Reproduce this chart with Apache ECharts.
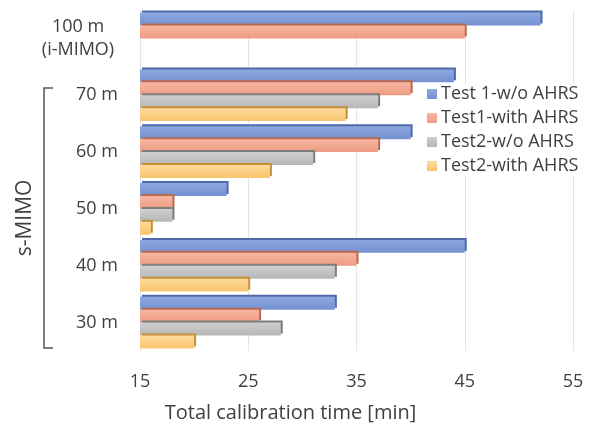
<!DOCTYPE html>
<html>
<head>
<meta charset="utf-8">
<script src="https://cdn.jsdelivr.net/npm/echarts@6/dist/echarts.min.js"></script>
<style>
  html, body { margin: 0; padding: 0; background: #fff; }
  #chart { width: 594px; height: 428px; }
</style>
</head>
<body>
<div id="chart"></div>
<script>
// Categories, top to bottom
const categories = ['100 m\n(i-MIMO)', '70 m', '60 m', '50 m', '40 m', '30 m'];
const seriesNames = ['Test 1-w/o AHRS', 'Test1-with AHRS', 'Test2-w/o AHRS', 'Test2-with AHRS'];
// Total calibration time [min]
const test1NoAhrs   = [52, 44, 40, 23, 45, 33];
const test1WithAhrs = [45, 40, 37, 18, 35, 26];
const test2NoAhrs   = [null, 37, 31, 18, 33, 28];
const test2WithAhrs = [null, 34, 27, 16, 25, 20];
const xTicks = [15, 25, 35, 45, 55];

const seriesData = [test1NoAhrs, test1WithAhrs, test2NoAhrs, test2WithAhrs];
// face colour (light, base) and bevel colour for each series
const palette = [
  ['#8ea8df', '#7391d2', '#4f6aa8'],
  ['#f6b6a2', '#ee9b82', '#b8694f'],
  ['#cfcfcf', '#b6b6b6', '#7d7d7d'],
  ['#fedb9c', '#f9c46c', '#c49038']
];

const chart = echarts.init(document.getElementById('chart'), null, { renderer: 'canvas' });
const txt = '#404040';
const font = 'Open Sans';

chart.setOption({
  animation: false,
  backgroundColor: '#fff',
  textStyle: { fontFamily: font },
  grid: { left: 140, right: 21, top: 10, height: 343, containLabel: false },
  xAxis: {
    type: 'value',
    min: xTicks[0],
    max: xTicks[xTicks.length - 1],
    interval: 10,
    axisLine: { show: false },
    axisTick: { show: false },
    splitLine: { show: true, lineStyle: { color: '#e4e4e4', width: 1 } },
    axisLabel: { color: txt, fontSize: 18, margin: 22, fontFamily: font },
    name: 'Total calibration time [min]',
    nameLocation: 'middle',
    nameGap: 52,
    nameTextStyle: { color: txt, fontSize: 20, fontFamily: font, padding: [0, 132, 0, 0] }
  },
  yAxis: {
    type: 'category',
    data: categories,
    inverse: true,
    axisLine: { show: false },
    axisTick: { show: false },
    splitLine: { show: false },
    axisLabel: {
      color: txt,
      fontSize: 18,
      margin: 22,
      fontFamily: font,
      formatter: function (v) {
        if (v.indexOf('\n') >= 0) {
          return v.split('\n').map(function (s) { return '{c|' + s + '}'; }).join('\n');
        }
        return v;
      },
      rich: {
        c: { width: 80, align: 'center', fontSize: 18, color: txt, fontFamily: font, lineHeight: 23 }
      }
    }
  },
  legend: {
    data: seriesNames,
    orient: 'vertical',
    left: 425,
    top: 84,
    itemWidth: 10,
    itemHeight: 10,
    itemGap: 6,
    backgroundColor: '#fff',
    padding: [1, 2, 1, 2],
    textStyle: { color: txt, fontSize: 18, fontFamily: font, padding: [0, 0, 0, -1] },
    icon: 'rect'
  },
  graphic: [
    {
      type: 'polyline',
      shape: { points: [[53, 88], [44, 88], [44, 348], [53, 348]] },
      style: { stroke: '#555', lineWidth: 1.5, fill: null }
    },
    {
      type: 'text',
      x: 25,
      y: 218,
      rotation: Math.PI / 2,
      style: {
        text: 's-MIMO',
        fill: txt,
        font: '21px "Open Sans"',
        align: 'center',
        verticalAlign: 'middle'
      }
    }
  ],
  series: seriesData.map(function (d, i) {
    return {
      name: seriesNames[i],
      type: 'bar',
      data: d,
      barCategoryGap: '9%',
      barGap: '0%',
      itemStyle: {
        color: new echarts.graphic.LinearGradient(0, 0, 0, 1, [
          { offset: 0, color: palette[i][0] },
          { offset: 1, color: palette[i][1] }
        ]),
        shadowColor: palette[i][2],
        shadowBlur: 0,
        shadowOffsetX: 2,
        shadowOffsetY: -2
      },
      z: 2
    };
  })
});
</script>
</body>
</html>
